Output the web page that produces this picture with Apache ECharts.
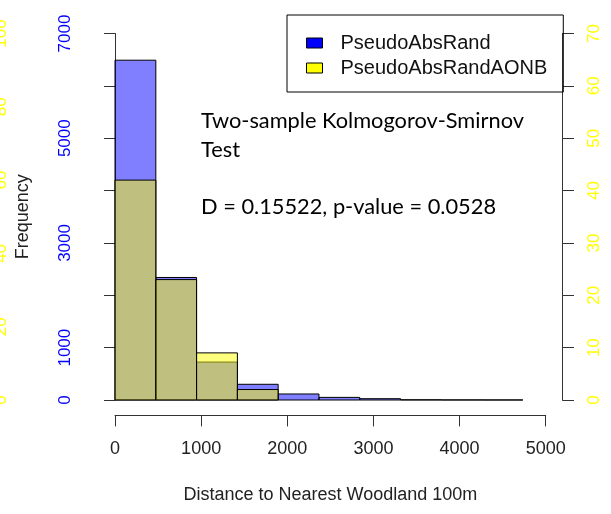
<!DOCTYPE html>
<html>
<head>
<meta charset="utf-8">
<script src="https://cdn.jsdelivr.net/npm/echarts@6/dist/echarts.min.js"></script>
<style>
  html, body { margin: 0; padding: 0; background: #ffffff; }
  #chart { width: 611px; height: 514px; }
</style>
</head>
<body>
<div id="chart"></div>
<script>
// Histogram bin boundaries (distance, m) shared by both samples
const binEdges = [0, 474, 947, 1421, 1894, 2368, 2841, 3315, 3788, 4262, 4735];
// Frequencies per bin
const randCounts = [6490, 2340, 725, 300, 115, 50, 25, 4, 2, 1];
const aonbCounts = [42, 23, 9, 2];

const seriesNames = ['PseudoAbsRand', 'PseudoAbsRandAONB'];
const xTickLabels = ['0', '1000', '2000', '3000', '4000', '5000'];
const leftTickLabels = ['0', '1000', '', '3000', '', '5000', '', '7000'];
const rightTickLabels = ['0', '10', '20', '30', '40', '50', '60', '70'];
const outerTickLabels = ['0', '20', '40', '60', '80', '100'];
const ksText = ['Two-sample Kolmogorov-Smirnov', 'Test', '', 'D = 0.15522, p-value = 0.0528'];

const AXIS_COLOR = '#333333';
const FONT = 'Liberation Sans, Arial, sans-serif';

function toBins(counts) {
  return counts.map((n, i) => [binEdges[i], binEdges[i + 1], n]);
}

function histRenderer(fill) {
  return function (params, api) {
    const top = api.coord([api.value(0), api.value(2)]);
    const base = api.coord([api.value(1), 0]);
    return {
      type: 'rect',
      shape: { x: top[0], y: top[1], width: base[0] - top[0], height: base[1] - top[1] },
      style: { fill: fill, stroke: '#000000', lineWidth: 1 }
    };
  };
}

const chart = echarts.init(document.getElementById('chart'), null, { renderer: 'canvas' });

chart.setOption({
  animation: false,
  backgroundColor: '#ffffff',
  grid: { left: 115, right: 65.3, top: 33.5, bottom: 114, containLabel: false, outerBoundsMode: 'none' },
  legend: {
    orient: 'vertical',
    left: 287,
    top: 15,
    padding: [18, 16, 14, 19],
    itemGap: 5,
    itemWidth: 16,
    itemHeight: 10,
    icon: 'rect',
    borderColor: '#000000',
    borderWidth: 1,
    borderRadius: 0,
    selectedMode: false,
    textStyle: { fontFamily: FONT, fontSize: 20, color: '#111111', padding: [0, 0, 0, 13] },
    data: [
      { name: seriesNames[0], itemStyle: { color: '#0000ff', borderColor: '#000000', borderWidth: 1 } },
      { name: seriesNames[1], itemStyle: { color: '#ffff00', borderColor: '#000000', borderWidth: 1 } }
    ]
  },
  xAxis: {
    type: 'value',
    min: 0,
    max: 5000,
    interval: 1000,
    offset: 15.7,
    axisLine: { show: true, onZero: false, lineStyle: { color: AXIS_COLOR, width: 1 } },
    axisTick: { show: true, length: 10.7, lineStyle: { color: AXIS_COLOR } },
    axisLabel: {
      margin: 24, fontFamily: FONT, fontSize: 18, color: '#222222',
      formatter: (v, i) => xTickLabels[i]
    },
    splitLine: { show: false },
    name: 'Distance to Nearest Woodland 100m',
    nameLocation: 'middle',
    nameGap: 70,
    nameTextStyle: { fontFamily: FONT, fontSize: 18, color: '#222222' }
  },
  yAxis: [
    {
      type: 'value',
      position: 'left',
      offset: 17.7,
      min: 0,
      max: 7000,
      interval: 1000,
      axisLine: { show: true, lineStyle: { color: AXIS_COLOR, width: 1 } },
      axisTick: { show: true, length: 11, lineStyle: { color: AXIS_COLOR } },
      axisLabel: {
        rotate: 90, margin: 23, fontFamily: FONT, fontSize: 17, color: '#0000ff',
        formatter: (v, i) => leftTickLabels[i]
      },
      splitLine: { show: false },
      name: 'Frequency',
      nameLocation: 'middle',
      nameRotate: 90,
      nameGap: 65,
      nameTextStyle: { fontFamily: FONT, fontSize: 18, color: '#222222' }
    },
    {
      type: 'value',
      position: 'right',
      offset: 16.6,
      min: 0,
      max: 70,
      interval: 10,
      axisLine: { show: true, lineStyle: { color: AXIS_COLOR, width: 1 } },
      axisTick: { show: true, length: 11.7, lineStyle: { color: AXIS_COLOR } },
      axisLabel: {
        rotate: 90, margin: 24, fontFamily: FONT, fontSize: 17, color: '#ffff00',
        formatter: (v, i) => rightTickLabels[i]
      },
      splitLine: { show: false }
    },
    {
      type: 'value',
      position: 'left',
      offset: 81.7,
      min: 0,
      max: 100,
      interval: 20,
      axisLine: { show: false },
      axisTick: { show: false },
      axisLabel: {
        rotate: 90, margin: 23, fontFamily: FONT, fontSize: 17, color: '#ffff00',
        formatter: (v, i) => outerTickLabels[i]
      },
      splitLine: { show: false }
    }
  ],
  graphic: [
    {
      type: 'text',
      left: 201,
      top: 107,
      silent: true,
      style: {
        text: ksText.join('\n'),
        fontFamily: 'Lato, sans-serif',
        fontSize: 21.8,
        lineHeight: 28.6,
        fill: '#000000'
      }
    }
  ],
  series: [
    {
      name: seriesNames[0],
      type: 'custom',
      xAxisIndex: 0,
      yAxisIndex: 0,
      renderItem: histRenderer('rgba(0,0,255,0.5)'),
      encode: { x: [0, 1], y: 2 },
      itemStyle: { color: '#0000ff' },
      data: toBins(randCounts)
    },
    {
      name: seriesNames[1],
      type: 'custom',
      xAxisIndex: 0,
      yAxisIndex: 1,
      renderItem: histRenderer('rgba(255,255,0,0.5)'),
      encode: { x: [0, 1], y: 2 },
      itemStyle: { color: '#ffff00' },
      data: toBins(aonbCounts)
    }
  ]
});
</script>
</body>
</html>
